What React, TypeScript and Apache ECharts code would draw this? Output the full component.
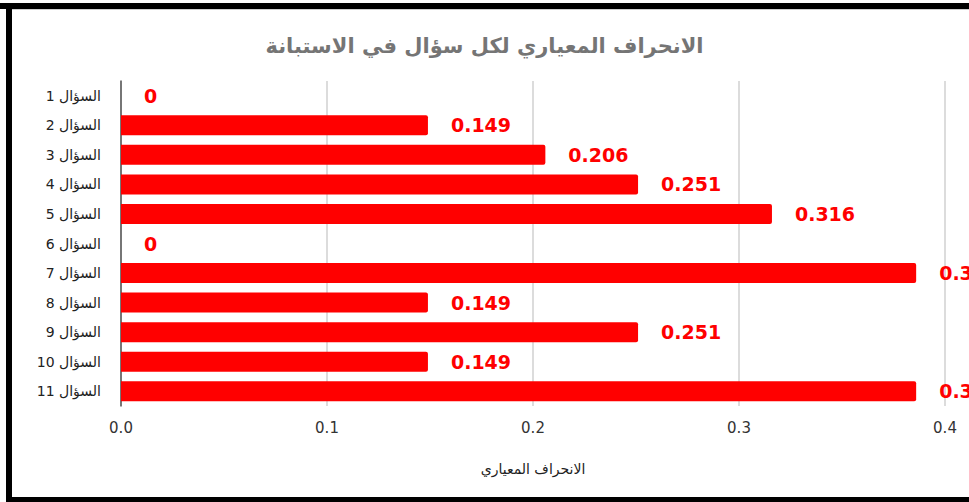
import React, { useEffect, useRef } from "react";
import * as echarts from "echarts";

const titleText = "الانحراف المعياري لكل سؤال في الاستبانة";
const xAxisName = "الانحراف المعياري";
const categories = [
  "السؤال 1", "السؤال 2", "السؤال 3", "السؤال 4", "السؤال 5", "السؤال 6",
  "السؤال 7", "السؤال 8", "السؤال 9", "السؤال 10", "السؤال 11",
];
const values = [0, 0.149, 0.206, 0.251, 0.316, 0, 0.386, 0.149, 0.251, 0.149, 0.386];

export default function App() {
  const ref = useRef<HTMLDivElement>(null);
  useEffect(() => {
    const chart = echarts.init(ref.current!, null, { renderer: "svg" });
    const font = "'DejaVu Sans', 'Liberation Sans', Arial, sans-serif";
    chart.setOption({
      animation: false,
      backgroundColor: "#ffffff",
      title: {
        text: titleText,
        left: "center",
        top: 30,
        textStyle: { fontFamily: font, fontSize: 21, fontWeight: "bold", color: "#757575" },
      },
      grid: { left: 121, right: 24, top: 81, bottom: 96, containLabel: false },
      xAxis: {
        type: "value",
        min: 0,
        max: 0.4,
        interval: 0.1,
        name: xAxisName,
        nameLocation: "middle",
        nameGap: 56,
        nameTextStyle: { fontFamily: font, fontSize: 14, color: "#222" },
        axisLine: { show: false },
        axisTick: { show: false },
        axisLabel: {
          fontFamily: font,
          fontSize: 15,
          color: "#333",
          margin: 14,
          formatter: (v: number) => v.toFixed(1),
        },
        splitLine: { show: true, lineStyle: { color: "#d0d0d0", width: 1.5 } },
      },
      yAxis: {
        type: "category",
        data: categories,
        inverse: true,
        axisLine: { show: true, lineStyle: { color: "#555", width: 1.5 } },
        axisTick: { show: false },
        axisLabel: {
          fontFamily: font,
          fontSize: 14,
          color: "#222",
          margin: 20,
          formatter: (s: string) => "\u2067" + s + "\u2069",
        },
      },
      series: [
        {
          type: "bar",
          data: values,
          barWidth: 20,
          itemStyle: { color: "#ff0000", borderRadius: [0, 2, 2, 0] },
          label: {
            show: true,
            position: "right",
            distance: 23,
            fontFamily: font,
            fontSize: 19,
            fontWeight: "bold",
            color: "#ff0000",
            formatter: (p: any) => (p.value === 0 ? "0" : String(p.value)),
          },
        },
      ],
      graphic: [
        { type: "rect", shape: { x: 0, y: 3, width: 969, height: 6 }, style: { fill: "#000" }, z: 100 },
        { type: "line", shape: { x1: 12, y1: 9.5, x2: 969, y2: 9.5 }, style: { stroke: "#cfcfcf", lineWidth: 1 }, z: 100 },
        { type: "rect", shape: { x: 6, y: 3, width: 6, height: 499 }, style: { fill: "#000" }, z: 100 },
        { type: "rect", shape: { x: 6, y: 497, width: 963, height: 5 }, style: { fill: "#000" }, z: 100 },
      ],
    });
    return () => chart.dispose();
  }, []);
  return (
    <div
      ref={ref}
      style={{ position: "absolute", left: 0, top: 0, width: 969, height: 502 }}
    />
  );
}
